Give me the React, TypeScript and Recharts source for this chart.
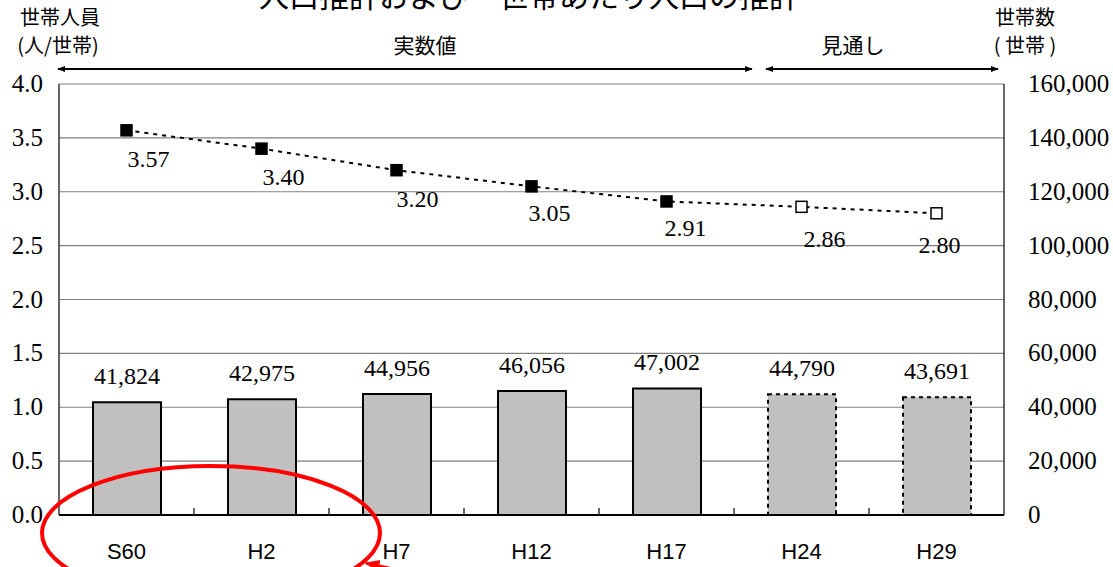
import React from "react";
import { Bar, CartesianGrid, Cell, ComposedChart, LabelList, Line, XAxis, YAxis } from "recharts";

// 年次（S60〜H17 実数値、H24・H29 見通し）
const categories = ["S60", "H2", "H7", "H12", "H17", "H24", "H29"];
const households = [41824, 42975, 44956, 46056, 47002, 44790, 43691];
const personsPerHousehold = [3.57, 3.4, 3.2, 3.05, 2.91, 2.86, 2.8];
const isForecast = [false, false, false, false, false, true, true];

const leftTicks = [0, 0.5, 1, 1.5, 2, 2.5, 3, 3.5, 4];
const rightTicks = [0, 20000, 40000, 60000, 80000, 100000, 120000, 140000, 160000];

// ラベルの微調整（見た目のみ）
const lineLabelDx = [22, 22, 21, 18, 19, 23, 3];
const lineLabelDy = [37, 36, 37, 35, 35, 40, 40];

const W = 1113;
const H = 567;
const PLOT_LEFT = 59;
const PLOT_RIGHT = 1004;
const BAND = (PLOT_RIGHT - PLOT_LEFT) / categories.length;

const serif = "'Liberation Serif', 'Times New Roman', serif";
const sans = "'Liberation Sans', Arial, sans-serif";
const jp = "'Noto Sans CJK JP', sans-serif";

const data = categories.map((c, i) => ({
  year: c,
  households: households[i],
  size: personsPerHousehold[i],
  forecast: isForecast[i]
}));

function XTick(props: any) {
  const { x, y, payload, index } = props;
  const last = index === categories.length - 1;
  return (
    <g>
      <text x={x} y={y + 44} textAnchor="middle" style={{ fontFamily: sans, fontSize: 22 }} fill="#000">
        {payload.value}
      </text>
      {!last && <line x1={x + BAND / 2} x2={x + BAND / 2} y1={y} y2={y - 7} stroke="#333" strokeWidth={1.5} />}
    </g>
  );
}

function LeftTick(props: any) {
  const { x, y, payload } = props;
  return (
    <text x={x} y={y + 8} textAnchor="end" style={{ fontFamily: serif, fontSize: 25 }} fill="#000">
      {Number(payload.value).toFixed(1)}
    </text>
  );
}

function RightTick(props: any) {
  const { x, y, payload } = props;
  return (
    <text x={x} y={y + 8} textAnchor="start" style={{ fontFamily: serif, fontSize: 25 }} fill="#000">
      {Number(payload.value).toLocaleString("en-US")}
    </text>
  );
}

function SquareDot(props: any) {
  const { cx, cy, index, payload } = props;
  if (cx == null || cy == null) return <g key={index} />;
  return (
    <rect
      key={index}
      x={cx - 5.5}
      y={cy - 5.5}
      width={11}
      height={11}
      fill={payload.forecast ? "#fff" : "#000"}
      stroke="#000"
      strokeWidth={1.5}
    />
  );
}

function SizeLabel(props: any) {
  const { x, y, value, index } = props;
  return (
    <text
      x={x + lineLabelDx[index]}
      y={y + lineLabelDy[index]}
      textAnchor="middle"
      style={{ fontFamily: serif, fontSize: 24 }}
      fill="#000"
    >
      {Number(value).toFixed(2)}
    </text>
  );
}

function CountLabel(props: any) {
  const { x, y, width, value } = props;
  return (
    <text x={x + width / 2} y={y - 18} textAnchor="middle" style={{ fontFamily: serif, fontSize: 24 }} fill="#000">
      {Number(value).toLocaleString("en-US")}
    </text>
  );
}

export default function App() {
  return (
    <div style={{ position: "absolute", left: 0, top: 0, width: W, height: H, overflow: "hidden", background: "#fff" }}>
      <ComposedChart width={W} height={H} data={data} margin={{ top: 84, right: 0, left: 0, bottom: 0 }}>
        <CartesianGrid yAxisId="left" vertical={false} stroke="#808080" strokeWidth={1.2} />
        <XAxis
          dataKey="year"
          height={52}
          tickSize={0}
          tickMargin={0}
          tick={<XTick />}
          interval={0}
          axisLine={{ stroke: "#000", strokeWidth: 2 }}
        />
        <YAxis
          yAxisId="left"
          orientation="left"
          width={59}
          domain={[0, 4]}
          ticks={leftTicks}
          interval={0}
          tick={<LeftTick />}
          tickLine={false}
          tickSize={8}
          tickMargin={8}
          axisLine={{ stroke: "#333", strokeWidth: 1.5 }}
        />
        <YAxis
          yAxisId="right"
          orientation="right"
          width={109}
          domain={[0, 160000]}
          ticks={rightTicks}
          interval={0}
          tick={<RightTick />}
          tickLine={false}
          tickSize={8}
          tickMargin={16}
          axisLine={{ stroke: "#333", strokeWidth: 1.5 }}
        />
        <Bar yAxisId="right" dataKey="households" barSize={68} isAnimationActive={false}>
          {data.map((d) => (
            <Cell
              key={d.year}
              fill="#c0c0c0"
              stroke="#000"
              strokeWidth={2}
              strokeDasharray={d.forecast ? "4 4" : undefined}
            />
          ))}
          <LabelList dataKey="households" content={CountLabel} />
        </Bar>
        <Line
          yAxisId="left"
          dataKey="size"
          type="linear"
          stroke="#000"
          strokeWidth={2}
          strokeDasharray="4 5"
          dot={SquareDot}
          activeDot={false}
          isAnimationActive={false}
        >
          <LabelList dataKey="size" content={SizeLabel} />
        </Line>
      </ComposedChart>

      <svg width={W} height={H} style={{ position: "absolute", left: 0, top: 0, pointerEvents: "none" }}>
        <defs>
          <marker id="ah" viewBox="0 0 10 10" refX="9" refY="5" markerWidth="4" markerHeight="4" orient="auto-start-reverse">
            <path d="M0,1 L10,5 L0,9 z" fill="#000" />
          </marker>
          <marker id="ahRed" viewBox="0 0 10 10" refX="9" refY="5" markerWidth="5" markerHeight="5" orient="auto">
            <path d="M0,1 L10,5 L0,9 z" fill="#f00" />
          </marker>
        </defs>
        <text x={529} y={7} textAnchor="middle" style={{ fontFamily: jp, fontSize: 30 }} fill="#000">
          人口推計および一世帯あたり人口の推計
        </text>
        <g style={{ fontFamily: jp, fontSize: 20 }} fill="#000">
          <text x={60} y={25} textAnchor="middle">世帯人員</text>
          <text x={58} y={53} textAnchor="middle">(人/世帯)</text>
          <text x={1025} y={25} textAnchor="middle">世帯数</text>
          <text x={1025} y={53} textAnchor="middle">( 世帯 )</text>
        </g>
        <g style={{ fontFamily: jp, fontSize: 21 }} fill="#000">
          <text x={425} y={53} textAnchor="middle">実数値</text>
          <text x={853} y={53} textAnchor="middle">見通し</text>
        </g>
        <line x1={58} y1={69} x2={752} y2={69} stroke="#000" strokeWidth={2} markerStart="url(#ah)" markerEnd="url(#ah)" />
        <line x1={766} y1={69} x2={998} y2={69} stroke="#000" strokeWidth={2} markerStart="url(#ah)" markerEnd="url(#ah)" />
        <ellipse cx={211} cy={533} rx={169} ry={67} fill="none" stroke="#f00" strokeWidth={4} />
        <line x1={420} y1={575} x2={366} y2={563} stroke="#f00" strokeWidth={3} markerEnd="url(#ahRed)" />
      </svg>
    </div>
  );
}
